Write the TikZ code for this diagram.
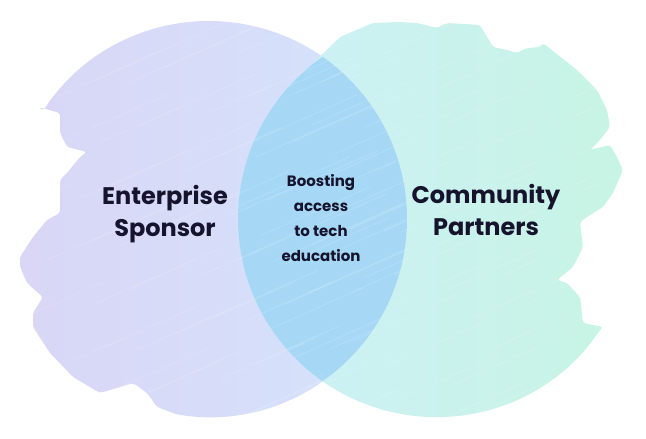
\documentclass[tikz,border=0pt]{standalone}
\usepackage{fontspec}
\setmainfont{Poppins}
\definecolor{lavender}{RGB}{217,214,246}
\definecolor{skyleft}{RGB}{212,228,251}
\definecolor{lensblue}{RGB}{166,216,246}
\definecolor{aqualeft}{RGB}{206,240,248}
\definecolor{mintright}{RGB}{199,244,228}
\definecolor{inkblue}{RGB}{22,19,45}

\begin{document}
\begin{tikzpicture}[x=1pt,y=1pt,
  biglabel/.style={text=inkblue,align=center,anchor=base,
    font=\bfseries\fontsize{24}{32}\selectfont},
  smalllabel/.style={text=inkblue,align=center,anchor=base,
    font=\bfseries\fontsize{15}{25}\selectfont},
  streak/.style={white,opacity=0.12,line width=1pt,line cap=round}]

\useasboundingbox (0,0) rectangle (646,439);

% === Circle centres ===
\coordinate (lc) at (209,220);
\coordinate (rc) at (436,220);

% === Left blob: circle with a brushed left edge ===
\def\leftblob{(lc) ++(-99.4:198) arc[start angle=-99.4,end angle=146.8,radius=198]
  -- (38,332) -- (60,326) -- (60,306) -- (67,292) -- (87,287) -- (80,282)
  -- (67,266) -- (60,259) -- (60,226) -- (47,219) -- (33,202) -- (20,182)
  -- (20,172) -- (27,156) -- (37,147) -- (43,142) -- (33,126) -- (33,112)
  -- (50,86) -- (73,62) -- (100,46) -- (127,54) -- (133,56) -- (147,46)
  -- (157,32) -- cycle}
\shade[left color=lavender,right color=skyleft,rounded corners=3pt] \leftblob;

% === Right blob: circle with a brushed right edge ===
\def\rightblob{(rc) ++(-34.8:198) arc[start angle=-34.8,end angle=-230,radius=198]
  -- (340,402) -- (373,416) -- (397,417) -- (417,416) -- (437,411)
  -- (447,416) -- (480,414) -- (487,402) -- (493,392) -- (507,389)
  -- (517,386) -- (527,391) -- (540,392) -- (543,396) -- (577,369)
  -- (597,349) -- (607,329) -- (610,312) -- (600,299) -- (590,289)
  -- (610,294) -- (617,282) -- (623,269) -- (613,246) -- (603,232)
  -- (590,224) -- (580,217) -- (583,192) -- (573,172) -- (557,159)
  -- (567,156) -- (580,142) -- (583,116) -- (603,112) -- cycle}
\shade[left color=aqualeft,right color=mintright,rounded corners=3pt] \rightblob;

% === Overlap ===
\begin{scope}
  \clip (lc) circle (198);
  \fill[lensblue] (rc) circle (198);
\end{scope}

% === Brush texture ===
\begin{scope}
  \clip[rounded corners=3pt] \leftblob;
  \foreach \k in {0,...,70} {
    \pgfmathsetmacro{\xs}{mod(\k*137,420)}
    \pgfmathsetmacro{\ys}{mod(\k*89,430)}
    \pgfmathsetmacro{\len}{60+mod(\k*53,110)}
    \draw[streak] (\xs,\ys) -- ++(24:\len);
  }
\end{scope}
\begin{scope}
  \clip[rounded corners=3pt] \rightblob;
  \foreach \k in {0,...,70} {
    \pgfmathsetmacro{\xs}{220+mod(\k*131,420)}
    \pgfmathsetmacro{\ys}{mod(\k*97,430)}
    \pgfmathsetmacro{\len}{60+mod(\k*59,110)}
    \draw[streak] (\xs,\ys) -- ++(24:\len);
  }
\end{scope}

% === Labels ===
\node[biglabel] (sponsor) at (165,202) {Enterprise\\Sponsor};
\node[biglabel] (partners) at (486,203) {Community\\Partners};
\node[smalllabel] (shared) at (321,177) {Boosting\\access\\to tech\\education};

\end{tikzpicture}
\end{document}
